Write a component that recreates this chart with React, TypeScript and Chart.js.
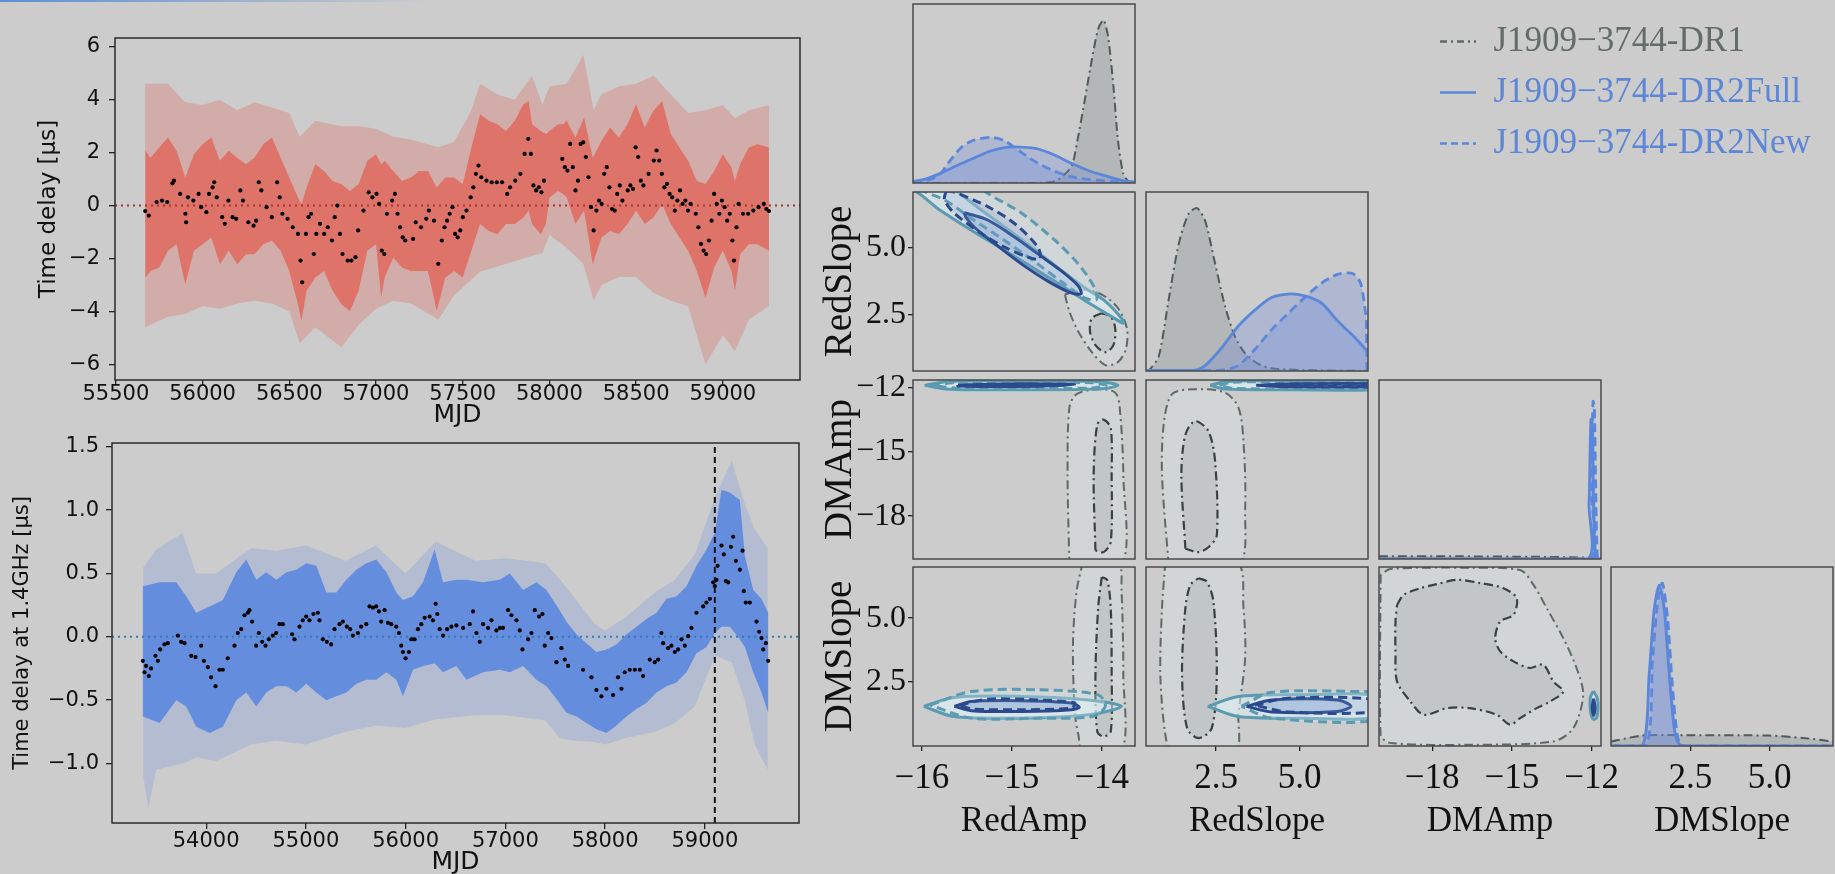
import React, { useEffect, useRef } from 'react';
import { Chart, registerables } from 'chart.js';

Chart.register(...registerables);

const SANS = "'DejaVu Sans', sans-serif";
const SERIF = "'Liberation Serif', 'DejaVu Serif', serif";
Chart.defaults.font.family = SANS;

// ---------------- left top panel (red) ----------------
const TOP_X_RANGE = [55495, 59445];
const TOP_Y_RANGE = [-6.59, 6.33];
const TOP_X_TICKS = [55500, 56000, 56500, 57000, 57500, 58000, 58500, 59000];
const TOP_Y_TICKS = [-6, -4, -2, 0, 2, 4, 6];

const TOP_MJD = [55669,55690,55735,55766,55796,55826,55835,55871,55901,55905,55916,55947,55977,55992,56022,56037,56058,56067,56082,56113,56128,56149,56173,56194,56218,56233,56264,56294,56309,56324,56339,56369,56399,56430,56445,56460,56490,56520,56550,56565,56574,56596,56611,56626,56641,56656,56677,56701,56722,56746,56762,56777,56792,56807,56837,56858,56882,56897,56928,56958,56979,57003,57018,57033,57048,57063,57093,57109,57124,57139,57154,57169,57214,57229,57260,57290,57305,57335,57359,57380,57395,57410,57425,57441,57456,57471,57486,57501,57522,57546,57561,57576,57591,57607,57637,57667,57697,57727,57757,57773,57803,57833,57857,57878,57893,57908,57923,57939,57954,57969,58074,58089,58104,58120,58135,58150,58165,58180,58195,58210,58225,58240,58255,58271,58286,58301,58316,58331,58346,58361,58376,58391,58406,58421,58452,58467,58482,58497,58512,58527,58542,58572,58602,58618,58633,58648,58663,58678,58693,58708,58723,58738,58753,58768,58784,58799,58814,58844,58859,58874,58889,58904,58920,58935,58950,58965,58980,58995,59010,59025,59040,59055,59064,59079,59091,59116,59146,59176,59206,59236,59251,59266];
const TOP_DELAY = [-0.21,-0.38,0.13,0.19,0.13,0.84,0.94,0.44,-0.31,-0.63,0.31,0.19,0.44,-0.06,-0.25,0.44,0.69,0.88,0.31,-0.44,-0.69,0.19,-0.44,-0.5,0.57,0.19,-0.63,-0.76,-0.57,0.88,0.57,-0.06,-0.44,0.88,0.31,-0.31,-0.5,-0.82,-1.07,-2.08,-2.9,-1.07,-0.44,-0.31,-1.83,-1.07,-0.69,-1.07,-0.82,-1.32,-0.44,0,-1.07,-1.83,-2.08,-2.08,-1.95,-0.94,-0.19,0.5,0.31,0.44,0.06,-1.7,-1.83,-0.31,0.19,0.44,-0.31,-0.82,-1.2,-1.32,-1.26,-0.63,-0.82,-0.5,-0.19,-0.57,-2.2,-1.32,-0.82,-0.57,-0.31,-0.06,-1.07,-1.2,-0.94,-0.44,-0.19,0.31,0.69,1.2,1.51,1.07,0.94,0.88,0.88,0.88,0.44,0.69,0.94,1.2,1.95,2.52,1.95,0.76,0.57,0.69,0.5,0.94,1.76,1.45,1.32,2.33,1.45,0.57,0.94,2.33,2.39,1.83,1.07,-0.06,-0.94,-0.19,0.19,0.06,1.2,1.45,0.69,-0.13,-0.19,0.44,0.76,0.19,0.57,0.76,0.63,2.2,1.83,0.94,0.76,1.2,1.7,2.08,1.7,1.2,0.69,0.82,0.44,0.31,-0.19,0.19,0.57,0.06,0.19,-0.19,0.06,-0.31,-0.82,-1.45,-1.7,-1.83,-1.32,-0.57,0.44,0.06,-0.31,0.19,-0.06,-0.57,-0.31,-1.32,-2.08,-0.82,0.06,-0.31,-0.31,-0.19,-0.06,0.06,-0.13,-0.21];

const TOP_CORE_MJD = [55670,55700,55750,55800,55850,55900,55950,56000,56050,56100,56150,56200,56250,56300,56350,56400,56450,56500,56550,56570,56600,56650,56700,56750,56800,56850,56900,56950,57000,57030,57050,57100,57150,57200,57250,57300,57350,57400,57450,57500,57550,57600,57650,57700,57750,57800,57850,57880,57900,57950,57980,58000,58050,58080,58100,58150,58200,58250,58300,58350,58400,58450,58500,58550,58600,58650,58700,58750,58800,58850,58900,58950,59000,59050,59070,59100,59150,59200,59266];
const TOP_CORE_HI = [2.07,1.81,2.19,2.57,2.07,1.06,1.94,2.32,2.57,1.69,2.07,1.81,1.56,1.81,2.32,2.57,1.81,1.06,0.30,0.05,0.68,1.56,1.31,0.93,0.81,0.55,0.81,1.69,1.94,1.56,1.69,1.31,0.93,1.06,1.31,1.31,0.68,1.06,1.06,0.81,2.19,3.45,3.2,3.07,2.82,3.2,3.83,3.95,3.07,2.82,2.7,2.82,3.07,3.07,3.2,2.57,3.32,1.81,2.44,2.95,2.57,3.07,3.83,2.95,3.58,3.95,2.7,2.19,1.69,0.93,0.81,1.31,1.94,1.44,0.93,1.56,2.19,2.32,2.19];
const TOP_CORE_LO = [-2.72,-2.47,-2.34,-1.71,-1.46,-2.97,-1.71,-1.46,-1.21,-2.22,-1.71,-2.22,-1.84,-1.84,-1.46,-1.33,-1.71,-2.47,-3.73,-4.36,-3.22,-2.72,-2.47,-3.22,-3.73,-3.98,-3.22,-1.71,-1.46,-3.48,-2.72,-1.96,-2.34,-2.47,-2.47,-2.47,-3.98,-2.72,-2.47,-2.72,-1.71,-0.70,-0.96,-1.08,-0.70,-0.70,-0.45,-0.2,-0.70,-1.08,-0.70,0.30,0.55,0.43,0.30,-0.70,-0.20,-2.22,-1.21,-0.96,-1.08,-0.70,-0.20,-0.70,-0.45,0.05,-0.70,-1.21,-1.71,-2.47,-3.48,-2.34,-1.71,-2.47,-3.22,-1.84,-1.46,-1.46,-1.71];

const TOP_ENV_MJD = [55669,55800,55900,56000,56100,56200,56300,56400,56500,56560,56650,56800,56900,57000,57100,57200,57360,57450,57550,57600,57700,57800,57900,57960,58000,58100,58196,58255,58300,58400,58500,58600,58700,58800,58900,59000,59070,59150,59266];
const TOP_ENV_HI = [4.6,4.6,3.9,3.8,4.0,3.6,3.9,3.7,3.5,2.6,3.2,3.0,3.0,2.9,2.6,2.5,2.2,2.4,3.6,4.6,4.2,4.0,4.9,3.8,4.5,4.6,5.7,3.6,4.2,4.5,4.6,4.9,4.2,3.5,3.6,3.8,3.3,3.6,3.8];
const TOP_ENV_LO = [-4.6,-4.2,-4.1,-3.8,-3.9,-3.7,-3.6,-3.7,-4.0,-5.2,-4.6,-5.35,-4.5,-3.9,-3.6,-3.7,-4.3,-3.4,-2.8,-2.5,-2.3,-2.1,-1.9,-1.8,-1.1,-1.6,-2.2,-3.6,-3.0,-2.7,-2.7,-3.3,-3.6,-3.8,-6.0,-4.9,-5.5,-4.3,-3.8];

// ---------------- left bottom panel (blue) ----------------
const BOT_X_RANGE = [53056, 59944];
const BOT_Y_RANGE = [-1.47, 1.53];
const BOT_X_TICKS = [54000, 55000, 56000, 57000, 58000, 59000];
const BOT_Y_TICKS = [-1.0, -0.5, 0.0, 0.5, 1.0, 1.5];
const VLINE_MJD = 59100;

const BOT_MJD = [53365,53382,53398,53425,53448,53492,53516,53539,53582,53616,53716,53749,53783,53850,53893,53950,53977,54017,54050,54094,54134,54167,54217,54284,54317,54351,54384,54418,54434,54461,54501,54528,54562,54595,54628,54668,54702,54735,54769,54862,54886,54936,54969,55003,55036,55076,55120,55136,55170,55210,55253,55287,55337,55371,55411,55444,55471,55521,55554,55605,55638,55672,55705,55732,55755,55789,55822,55856,55906,55933,55956,55973,56000,56033,56057,56090,56124,56157,56191,56241,56274,56301,56318,56341,56375,56415,56459,56509,56576,56643,56676,56710,56743,56776,56827,56860,56910,56944,56977,57027,57061,57111,57144,57171,57228,57261,57295,57338,57372,57395,57429,57462,57512,57562,57596,57629,57779,57863,57913,57963,58013,58080,58130,58164,58197,58247,58298,58348,58381,58448,58498,58532,58565,58582,58632,58665,58699,58732,58766,58799,58833,58866,58916,58983,59016,59050,59083,59100,59117,59127,59167,59190,59210,59234,59261,59284,59311,59351,59378,59391,59411,59451,59518,59545,59568,59585,59612,59635];
const BOT_DELAY = [-0.19,-0.28,-0.23,-0.31,-0.25,-0.15,-0.19,-0.10,-0.06,-0.05,0.01,-0.04,-0.05,-0.15,-0.16,-0.07,-0.19,-0.24,-0.32,-0.39,-0.26,-0.26,-0.17,-0.07,0.03,0.06,0.17,0.19,0.21,0.12,-0.07,0.03,-0.04,-0.07,-0.02,0.01,0.03,0.10,0.10,0.02,-0.02,0.08,0.13,0.16,0.13,0.18,0.19,0.13,-0.02,-0.04,-0.06,0.06,0.10,0.12,0.08,0.06,0.01,0.03,0.08,0.10,0.24,0.23,0.24,0.20,0.12,0.21,0.11,0.10,0.08,0.03,-0.07,-0.12,-0.17,-0.12,-0.02,-0.02,0.06,0.10,0.15,0.16,0.13,0.26,0.18,0.06,0.01,0.06,0.08,0.09,0.07,0.10,0.20,0.03,-0.04,0.10,0.07,0.13,0.05,0.07,0.07,0.21,0.17,0.13,0.05,-0.10,-0.02,0.03,0.21,0.16,0.18,-0.07,0.03,-0.01,-0.20,-0.09,-0.18,-0.23,-0.26,-0.32,-0.42,-0.47,-0.41,-0.46,-0.32,-0.41,-0.28,-0.26,-0.26,-0.26,-0.31,-0.18,-0.20,-0.18,0.03,-0.05,-0.09,-0.07,-0.12,-0.10,-0.02,-0.07,0.005,0.07,0.19,0.24,0.27,0.30,0.43,0.40,0.45,0.56,0.72,0.65,0.44,0.43,0.71,0.79,0.60,0.53,0.68,0.36,0.27,0.27,0.12,0.04,-0.01,-0.10,-0.05,-0.19];

const BOT_CORE_MJD = [53365,53533,53700,53800,53901,54034,54168,54302,54402,54503,54603,54703,54804,54904,55004,55105,55205,55305,55406,55506,55606,55707,55807,55907,55973,56074,56174,56291,56375,56509,56609,56777,56944,57044,57178,57312,57412,57512,57612,57713,57813,57913,58013,58114,58214,58314,58415,58515,58615,58716,58816,58916,59016,59100,59167,59251,59351,59401,59485,59568,59635];
const BOT_CORE_HI = [0.40,0.43,0.43,0.32,0.19,0.24,0.29,0.51,0.61,0.45,0.51,0.45,0.51,0.53,0.58,0.56,0.35,0.35,0.45,0.53,0.58,0.61,0.51,0.35,0.29,0.32,0.43,0.69,0.43,0.45,0.45,0.43,0.45,0.50,0.37,0.43,0.37,0.25,0.12,0.02,-0.05,-0.12,-0.10,-0.06,0.02,0.08,0.14,0.19,0.30,0.32,0.40,0.56,0.69,0.82,1.16,1.14,1.08,0.64,0.37,0.30,0.19];
const BOT_CORE_LO = [-0.63,-0.68,-0.50,-0.55,-0.71,-0.76,-0.71,-0.50,-0.44,-0.55,-0.44,-0.39,-0.39,-0.44,-0.37,-0.44,-0.50,-0.47,-0.44,-0.37,-0.34,-0.34,-0.28,-0.34,-0.47,-0.26,-0.23,-0.21,-0.28,-0.23,-0.34,-0.28,-0.26,-0.28,-0.23,-0.34,-0.39,-0.49,-0.60,-0.63,-0.68,-0.73,-0.76,-0.70,-0.63,-0.57,-0.52,-0.44,-0.39,-0.36,-0.28,-0.13,-0.08,0.03,0.08,0.08,-0.02,-0.08,-0.28,-0.44,-0.60];

const BOT_ENV_MJD = [53370,53420,53500,53764,53900,54100,54450,54700,55000,55400,55700,56000,56300,56700,57000,57200,57400,57550,57700,57900,58000,58200,58500,58700,58900,59100,59270,59400,59500,59630];
const BOT_ENV_HI = [0.55,0.6,0.69,0.82,0.5,0.5,0.7,0.68,0.72,0.6,0.72,0.5,0.75,0.6,0.62,0.6,0.58,0.45,0.3,0.1,0.05,0.15,0.35,0.45,0.65,1.1,1.39,1.05,0.85,0.7];
const BOT_ENV_LO = [-1.1,-1.35,-1.05,-1.0,-0.95,-0.98,-0.85,-0.82,-0.85,-0.75,-0.7,-0.72,-0.65,-0.62,-0.62,-0.64,-0.66,-0.8,-0.82,-0.83,-0.85,-0.8,-0.75,-0.68,-0.55,-0.15,-0.2,-0.5,-0.85,-1.05];

// ---------------- corner plot ----------------
const PARAMS = ['RedAmp', 'RedSlope', 'DMAmp', 'DMSlope'];
const RANGES: Record<string, number[]> = { RedAmp: [-16.1, -13.63], RedSlope: [0.4, 7.05], DMAmp: [-20, -11.65], DMSlope: [0, 7] };
const TICKS: Record<string, number[]> = { RedAmp: [-16, -15, -14], RedSlope: [2.5, 5.0], DMAmp: [-18, -15, -12], DMSlope: [2.5, 5.0] };
const DEC: Record<string, number> = { RedAmp: 0, RedSlope: 1, DMAmp: 0, DMSlope: 1 };
const SERIES = ['J1909\u22123744-DR1', 'J1909\u22123744-DR2Full', 'J1909\u22123744-DR2New'];

// 1D marginals [value, relative density]
const KDE_REDAMP_DR1 = [[-16.1,0],[-14.82,0],[-14.52,0.01],[-14.34,0.09],[-14.27,0.24],[-14.19,0.46],[-14.11,0.69],[-14.04,0.86],[-13.98,0.91],[-13.93,0.82],[-13.87,0.54],[-13.82,0.24],[-13.76,0.05],[-13.7,0.01],[-13.63,0]];
const KDE_REDAMP_FULL = [[-16.1,0.01],[-15.97,0.02],[-15.79,0.055],[-15.6,0.1],[-15.42,0.14],[-15.23,0.18],[-15.04,0.2],[-14.89,0.2],[-14.71,0.19],[-14.52,0.155],[-14.34,0.11],[-14.15,0.07],[-13.96,0.04],[-13.78,0.015],[-13.63,0.005]];
const KDE_REDAMP_NEW = [[-16.1,0.005],[-15.9,0.02],[-15.79,0.055],[-15.71,0.11],[-15.56,0.2],[-15.42,0.24],[-15.23,0.255],[-15.08,0.235],[-14.89,0.17],[-14.71,0.11],[-14.52,0.065],[-14.34,0.035],[-14.15,0.02],[-13.89,0.01],[-13.63,0.005]];
const KDE_REDSLOPE_DR1 = [[0.4,0],[0.49,0.004],[0.78,0.08],[1.08,0.4],[1.38,0.71],[1.68,0.88],[1.93,0.91],[2.17,0.84],[2.47,0.6],[2.77,0.36],[3.07,0.19],[3.36,0.1],[3.76,0.04],[4.16,0.015],[5.15,0.005],[7.05,0]];
const KDE_REDSLOPE_FULL = [[0.4,0.004],[1.88,0.005],[2.17,0.03],[2.67,0.13],[3.16,0.25],[3.66,0.34],[4.16,0.41],[4.65,0.43],[5.15,0.42],[5.65,0.38],[6.14,0.28],[6.64,0.19],[6.98,0.12],[7.05,0.1]];
const KDE_REDSLOPE_NEW = [[0.4,0.004],[2.67,0.005],[3.16,0.03],[3.66,0.12],[4.16,0.23],[4.65,0.32],[5.15,0.41],[5.65,0.49],[6.14,0.54],[6.59,0.545],[6.83,0.49],[6.98,0.32],[7.0,0.28],[7.02,0]];
const KDE_DMAMP_DR1 = [[-20,0.015],[-17,0.015],[-14,0.012],[-12.3,0.008],[-12,0.005],[-11.65,0]];
const KDE_DMAMP_FULL = [[-20,0],[-12.18,0],[-12.1,0.3],[-12.03,0.78],[-11.98,0.75],[-11.93,0.3],[-11.85,0],[-11.65,0]];
const KDE_DMAMP_NEW = [[-20,0],[-12.08,0],[-12.02,0.4],[-11.95,0.88],[-11.9,0.85],[-11.85,0.4],[-11.78,0],[-11.65,0]];
const KDE_DMSLOPE_DR1 = [[0,0.025],[0.99,0.058],[2.5,0.06],[5.0,0.058],[6.05,0.045],[7,0.025]];
const KDE_DMSLOPE_FULL = [[0,0],[0.99,0],[1.2,0.39],[1.36,0.76],[1.52,0.9],[1.68,0.76],[1.84,0.39],[2.0,0.09],[2.15,0.01],[2.4,0],[7,0]];
const KDE_DMSLOPE_NEW = [[0,0],[1.1,0],[1.31,0.48],[1.47,0.8],[1.62,0.91],[1.78,0.72],[1.94,0.33],[2.1,0.05],[2.26,0],[7,0]];

// 2D credible contours [x, y]
const C_RA_RS_DR1_95 = [[-14.41,3.24],[-14.36,2.61],[-14.26,1.86],[-14.11,1.1],[-13.96,0.62],[-13.82,0.73],[-13.73,1.23],[-13.72,1.98],[-13.82,2.74],[-14.0,3.24],[-14.22,3.43]];
const C_RA_RS_DR1_50 = [[-14.0,2.55],[-14.11,2.36],[-14.13,1.86],[-14.07,1.36],[-13.96,1.1],[-13.87,1.36],[-13.85,1.98],[-13.9,2.42]];
const C_RA_RS_FULL_95 = [[-16.3,7.1],[-16.08,7.08],[-15.83,6.45],[-15.45,5.63],[-15.08,4.88],[-14.71,4.12],[-14.41,3.49],[-14.11,2.86],[-13.89,2.42],[-13.76,2.17],[-13.78,2.36],[-13.96,2.99],[-14.19,3.49],[-14.49,4.25],[-14.78,5.0],[-15.08,5.75],[-15.34,6.38],[-15.56,6.95],[-15.68,7.26],[-16.3,7.3]];
const C_RA_RS_NEW_95 = [[-15.97,7.3],[-15.97,7.08],[-15.75,6.76],[-15.45,6.07],[-15.08,5.25],[-14.71,4.37],[-14.41,3.62],[-14.19,3.12],[-14.06,3.05],[-14.08,3.49],[-14.26,4.37],[-14.52,5.25],[-14.89,6.26],[-15.3,7.08],[-15.3,7.3]];
const C_RA_RS_FULL_50 = [[-15.53,6.28],[-15.27,6.01],[-14.97,5.38],[-14.71,4.75],[-14.45,4.12],[-14.26,3.56],[-14.23,3.27],[-14.34,3.3],[-14.6,3.74],[-14.89,4.37],[-15.19,5.13],[-15.42,5.75],[-15.51,6.11]];
const C_RA_RS_NEW_50 = [[-15.73,7.1],[-15.64,7.05],[-15.27,6.51],[-14.97,5.88],[-14.71,5.0],[-14.69,4.56],[-14.82,4.63],[-15.08,5.0],[-15.34,5.51],[-15.64,6.26],[-15.75,6.76]];

const C_RA_DA_DR1_95 = [[-14.36,-20.3],[-14.38,-16.08],[-14.36,-12.94],[-14.28,-12.31],[-14.04,-12.08],[-13.85,-12.24],[-13.8,-12.94],[-13.76,-16.08],[-13.78,-20.3]];
const C_RA_DA_DR1_50 = [[-14.07,-19.6],[-14.09,-16.08],[-14.05,-13.73],[-13.98,-13.5],[-13.9,-13.9],[-13.89,-16.08],[-13.9,-19.2],[-13.98,-19.68]];
const C_RA_DA_FULL_95 = [[-15.97,-11.9],[-15.7,-11.72],[-14.9,-11.7],[-14.0,-11.74],[-13.82,-11.9],[-14.0,-12.06],[-14.9,-12.1],[-15.7,-12.08]];
const C_RA_DA_NEW_95 = [[-15.9,-11.9],[-15.6,-11.76],[-14.9,-11.75],[-14.1,-11.78],[-13.95,-11.9],[-14.1,-12.02],[-14.9,-12.05],[-15.6,-12.03]];
const C_RA_DA_FULL_50 = [[-15.6,-11.88],[-14.9,-11.82],[-14.3,-11.86],[-14.9,-11.95],[-15.6,-11.93]];
const C_RA_DA_NEW_50 = [[-15.5,-11.9],[-14.9,-11.85],[-14.4,-11.88],[-14.9,-11.93],[-15.5,-11.93]];

const C_RS_DA_DR1_95 = [[1.08,-20.3],[0.88,-16.08],[0.93,-13.73],[1.18,-12.31],[1.87,-12.08],[2.77,-12.24],[3.17,-12.94],[3.32,-14.51],[3.37,-17.64],[3.17,-20.3]];
const C_RS_DA_DR1_50 = [[1.58,-19.52],[1.46,-16.08],[1.58,-14.2],[1.87,-13.57],[2.27,-14.04],[2.47,-15.45],[2.52,-18.9],[2.27,-19.45],[1.97,-19.68]];
const C_RS_DA_FULL_95 = [[2.32,-11.9],[2.8,-11.72],[5,-11.7],[7.5,-11.72],[7.5,-12.08],[5,-12.1],[2.8,-12.07]];
const C_RS_DA_NEW_95 = [[2.6,-11.9],[3.0,-11.75],[5,-11.74],[7.5,-11.75],[7.5,-12.04],[5,-12.06],[3.0,-12.04]];
const C_RS_DA_FULL_50 = [[3.7,-11.9],[5,-11.83],[7.5,-11.84],[7.5,-11.96],[5,-11.97]];
const C_RS_DA_NEW_50 = [[3.9,-11.9],[5,-11.85],[7.5,-11.86],[7.5,-11.94],[5,-11.95]];

const C_RA_DS_DR1_95 = [[-14.21,7.2],[-14.28,6.04],[-14.32,4.0],[-14.3,1.3],[-14.26,0.44],[-14.21,-0.2],[-13.78,-0.2],[-13.76,2.79],[-13.78,6.04],[-13.82,7.2]];
const C_RA_DS_DR1_50 = [[-14.0,6.6],[-14.04,5.4],[-14.07,2.79],[-14.05,0.57],[-13.98,0.37],[-13.9,0.57],[-13.89,2.79],[-13.9,5.4],[-13.94,6.5]];
const C_RA_DS_FULL_95 = [[-15.98,1.55],[-15.64,1.9],[-14.89,1.94],[-14.15,1.8],[-13.78,1.55],[-14.15,1.22],[-14.89,1.09],[-15.64,1.15]];
const C_RA_DS_NEW_95 = [[-15.91,1.6],[-15.45,2.13],[-14.71,2.2],[-14.04,2.0],[-13.96,1.55],[-14.11,1.15],[-14.71,1.09],[-15.45,1.09]];
const C_RA_DS_FULL_50 = [[-15.64,1.55],[-15.45,1.74],[-14.89,1.77],[-14.34,1.68],[-14.25,1.52],[-14.34,1.42],[-14.89,1.35],[-15.45,1.38]];
const C_RA_DS_NEW_50 = [[-15.58,1.6],[-15.27,1.83],[-14.71,1.8],[-14.3,1.68],[-14.34,1.48],[-14.89,1.42],[-15.45,1.45]];

const C_RS_DS_DR1_95 = [[0.98,7.2],[0.88,5.4],[0.83,2.79],[0.98,0.44],[1.18,-0.2],[3.07,-0.2],[3.17,1.3],[3.37,3.44],[3.32,5.4],[3.12,7.2]];
const C_RS_DS_DR1_50 = [[1.97,6.56],[2.22,6.43],[2.42,5.65],[2.52,2.79],[2.37,0.7],[1.97,0.31],[1.63,0.7],[1.48,2.79],[1.58,5.4],[1.73,6.3]];
const C_RS_DS_FULL_95 = [[2.25,1.55],[3.17,1.94],[5.15,2.0],[7.4,1.94],[7.4,1.15],[5.15,1.09],[3.17,1.15]];
const C_RS_DS_NEW_95 = [[3.26,1.55],[4.16,2.1],[7.04,2.13],[7.4,2.13],[7.4,1.05],[4.16,1.09]];
const C_RS_DS_FULL_50 = [[3.41,1.55],[4.16,1.8],[6.14,1.8],[6.54,1.55],[6.14,1.35],[4.16,1.33]];
const C_RS_DS_NEW_50 = [[3.66,1.6],[4.65,1.87],[7.4,1.8],[7.4,1.35],[4.65,1.33]];

const C_DA_DS_DR1_95 = [[-19.94,6.69],[-19.94,0.44],[-19.57,0.12],[-16.57,0.05],[-13.44,0.18],[-12.69,0.7],[-12.32,2.0],[-12.57,3.05],[-13.07,4.22],[-13.69,5.39],[-14.19,6.3],[-14.69,6.88],[-16.57,6.97],[-19.57,6.92]];
const C_DA_DS_DR1_50 = [[-19.32,5.52],[-19.07,5.91],[-18.44,6.17],[-17.82,6.33],[-17.07,6.5],[-16.19,6.37],[-15.32,6.17],[-14.82,5.78],[-14.94,5.13],[-15.44,4.87],[-15.63,4.22],[-15.44,3.7],[-14.94,3.31],[-14.32,3.05],[-13.82,3.18],[-13.44,2.52],[-13.07,2.13],[-13.57,1.74],[-14.07,1.48],[-14.69,1.09],[-15.07,0.83],[-15.57,1.22],[-16.57,1.48],[-17.44,1.48],[-18.32,1.22],[-18.82,1.74],[-19.32,2.52],[-19.38,3.7],[-19.38,4.87]];
const C_DA_DS_FULL_95 = [[-11.94,2.15],[-11.8,1.9],[-11.76,1.5],[-11.82,1.1],[-11.95,1.05],[-12.05,1.4],[-12.05,1.9]];
const C_DA_DS_FULL_50 = [[-11.93,1.85],[-11.87,1.5],[-11.93,1.2],[-11.98,1.5]];

// ---------------- styles & geometry ----------------
const ST: Record<string, any> = {
  dr1_95: { color: '#5d6a67', width: 2, dash: [9, 4, 2, 4], fill: 'rgba(216,221,221,0.5)' },
  dr1_50: { color: '#384240', width: 2.2, dash: [9, 4, 2, 4], fill: 'rgba(160,167,167,0.3)' },
  full_95: { color: '#5b9bb1', width: 3, dash: [], fill: 'rgba(222,240,246,0.55)' },
  new_95: { color: '#5b9bb1', width: 3, dash: [9, 5], fill: 'rgba(222,240,246,0.3)' },
  full_50: { color: '#2b4a8d', width: 3, dash: [], fill: 'rgba(120,150,205,0.28)' },
  new_50: { color: '#2b4a8d', width: 3, dash: [9, 5], fill: 'rgba(120,150,205,0.2)' },
  kde_dr1: { color: '#4f5b58', width: 2, dash: [9, 4, 2, 4], fill: 'rgba(150,158,158,0.45)' },
  kde_full: { color: '#5b87da', width: 2.8, dash: [], fill: 'rgba(110,140,220,0.3)' },
  kde_new: { color: '#5b87da', width: 2.8, dash: [9, 5], fill: 'rgba(110,140,220,0.3)' },
};

const CORNER: any[] = [
  { r: 0, c: 0, sets: [[KDE_REDAMP_FULL, 'kde_full'], [KDE_REDAMP_NEW, 'kde_new'], [KDE_REDAMP_DR1, 'kde_dr1']] },
  { r: 1, c: 0, sets: [[C_RA_RS_NEW_50, 'new_50'], [C_RA_RS_FULL_50, 'full_50'], [C_RA_RS_NEW_95, 'new_95'], [C_RA_RS_FULL_95, 'full_95'], [C_RA_RS_DR1_50, 'dr1_50'], [C_RA_RS_DR1_95, 'dr1_95']] },
  { r: 1, c: 1, sets: [[KDE_REDSLOPE_FULL, 'kde_full'], [KDE_REDSLOPE_NEW, 'kde_new'], [KDE_REDSLOPE_DR1, 'kde_dr1']] },
  { r: 2, c: 0, sets: [[C_RA_DA_NEW_50, 'new_50'], [C_RA_DA_FULL_50, 'full_50'], [C_RA_DA_NEW_95, 'new_95'], [C_RA_DA_FULL_95, 'full_95'], [C_RA_DA_DR1_50, 'dr1_50'], [C_RA_DA_DR1_95, 'dr1_95']] },
  { r: 2, c: 1, sets: [[C_RS_DA_NEW_50, 'new_50'], [C_RS_DA_FULL_50, 'full_50'], [C_RS_DA_NEW_95, 'new_95'], [C_RS_DA_FULL_95, 'full_95'], [C_RS_DA_DR1_50, 'dr1_50'], [C_RS_DA_DR1_95, 'dr1_95']] },
  { r: 2, c: 2, sets: [[KDE_DMAMP_FULL, 'kde_full'], [KDE_DMAMP_NEW, 'kde_new'], [KDE_DMAMP_DR1, 'kde_dr1']] },
  { r: 3, c: 0, sets: [[C_RA_DS_NEW_50, 'new_50'], [C_RA_DS_FULL_50, 'full_50'], [C_RA_DS_NEW_95, 'new_95'], [C_RA_DS_FULL_95, 'full_95'], [C_RA_DS_DR1_50, 'dr1_50'], [C_RA_DS_DR1_95, 'dr1_95']] },
  { r: 3, c: 1, sets: [[C_RS_DS_NEW_50, 'new_50'], [C_RS_DS_FULL_50, 'full_50'], [C_RS_DS_NEW_95, 'new_95'], [C_RS_DS_FULL_95, 'full_95'], [C_RS_DS_DR1_50, 'dr1_50'], [C_RS_DS_DR1_95, 'dr1_95']] },
  { r: 3, c: 2, sets: [[C_DA_DS_FULL_50, 'full_50'], [C_DA_DS_FULL_95, 'full_95'], [C_DA_DS_DR1_50, 'dr1_50'], [C_DA_DS_DR1_95, 'dr1_95']] },
  { r: 3, c: 3, sets: [[KDE_DMSLOPE_FULL, 'kde_full'], [KDE_DMSLOPE_NEW, 'kde_new'], [KDE_DMSLOPE_DR1, 'kde_dr1']] },
];

const COL_X = [913, 1146, 1379, 1611];
const ROW_Y = [4, 192, 380, 567];
const CELL_W = 222;
const CELL_H = 179;
const CORNER_YW = 100;
const CORNER_XH = 101;

const TOP_BOX = { x: 115, y: 38, w: 685, h: 342 };
const BOT_BOX = { x: 112, y: 443, w: 687, h: 380 };

// ---------------- helpers ----------------
const fmt = (d: number) => (v: number) => (v < 0 ? '\u2212' : '') + Math.abs(v).toFixed(d);
const pts = (a: number[][]) => a.map(([x, y]) => ({ x, y }));
const loop = (a: number[][]) => pts([...a, a[0]]);
const series = (xs: number[], ys: number[]) => xs.map((x, i) => ({ x, y: ys[i] }));
const band = (xs: number[], hi: number[], lo: number[]) => {
  const upper = series(xs, hi);
  const lower = series(xs, lo).reverse();
  return [...upper, ...lower, upper[0]];
};

const dotsDs = (data: any[]) => ({ data, showLine: false, pointRadius: 2.1, pointBackgroundColor: '#000', pointBorderWidth: 0, pointStyle: 'circle' });
const strokeDs = (data: any[], color: string, width: number, dash: number[]) => ({ data, showLine: true, borderColor: color, borderWidth: width, borderDash: dash, pointRadius: 0, fill: false, tension: 0 });
const areaDs = (data: any[], fill: string) => ({ data, showLine: true, borderColor: 'rgba(0,0,0,0)', borderWidth: 0, pointRadius: 0, fill: 'shape', backgroundColor: fill, tension: 0 });
const styledDs = (data: any[], st: any, fillMode: string, tension: number) => ({ data, showLine: true, borderColor: st.color, borderWidth: st.width, borderDash: st.dash, pointRadius: 0, fill: fillMode, backgroundColor: st.fill, tension, borderJoinStyle: 'round' });

const framePlugin = {
  id: 'frame',
  afterDatasetsDraw(chart: any, _a: any, o: any) {
    const { ctx, chartArea: a } = chart;
    ctx.save();
    ctx.strokeStyle = o.color || '#333';
    ctx.lineWidth = o.width || 1.5;
    ctx.strokeRect(a.left, a.top, a.right - a.left, a.bottom - a.top);
    ctx.restore();
  },
};

function makeAxis(s: any, horizontal: boolean) {
  const shown = s.size > 0;
  return {
    type: 'linear',
    min: s.min,
    max: s.max,
    display: shown,
    afterBuildTicks: (ax: any) => { ax.ticks = (s.ticks || []).map((v: number) => ({ value: v })); },
    afterFit: (ax: any) => {
      if (horizontal) ax.height = s.size; else ax.width = s.size;
      ax.paddingLeft = 0; ax.paddingRight = 0; ax.paddingTop = 0; ax.paddingBottom = 0;
    },
    grid: { display: shown && !!s.ticks, drawOnChartArea: false, drawTicks: true, tickLength: s.tickLen ?? 6, color: '#222', lineWidth: 1.3 },
    border: { display: false },
    ticks: { display: shown && !!s.ticks, font: s.tickFont, color: '#111', padding: s.tickPad ?? 3, maxRotation: 0, minRotation: 0, autoSkip: false, callback: (v: number) => fmt(s.dec ?? 0)(v) },
    title: { display: !!s.title && shown, text: s.title, font: s.titleFont, color: '#111', padding: { top: 4, bottom: 4 } },
  };
}

function baseConfig(datasets: any[], xa: any, ya: any, E: number, frame: any): any {
  return {
    type: 'line',
    data: { datasets },
    options: {
      responsive: false,
      animation: false,
      events: [],
      layout: { padding: E, autoPadding: false },
      plugins: { legend: { display: false }, tooltip: { enabled: false }, frame },
      scales: { x: makeAxis(xa, true), y: makeAxis(ya, false) },
    },
    plugins: [framePlugin],
  };
}

function topConfig(E: number) {
  const datasets = [
    dotsDs(series(TOP_MJD, TOP_DELAY)),
    strokeDs(pts([[TOP_X_RANGE[0], 0], [TOP_X_RANGE[1], 0]]), '#a83228', 2, [2, 4]),
    areaDs(band(TOP_CORE_MJD, TOP_CORE_HI, TOP_CORE_LO), 'rgba(226,96,84,0.75)'),
    areaDs(band(TOP_ENV_MJD, TOP_ENV_HI, TOP_ENV_LO), 'rgba(222,112,104,0.34)'),
  ];
  return baseConfig(
    datasets,
    { min: TOP_X_RANGE[0], max: TOP_X_RANGE[1], size: 54, ticks: TOP_X_TICKS, dec: 0, title: 'MJD', tickFont: { family: SANS, size: 21 }, titleFont: { family: SANS, size: 25 }, tickPad: -3, tickLen: 5 },
    { min: TOP_Y_RANGE[0], max: TOP_Y_RANGE[1], size: 84, ticks: TOP_Y_TICKS, dec: 0, title: 'Time delay [\u03bcs]', tickFont: { family: SANS, size: 21 }, titleFont: { family: SANS, size: 23 }, tickPad: 9, tickLen: 6 },
    E,
    { color: '#2a2a2a', width: 1.5 },
  );
}

function botConfig(E: number) {
  const datasets = [
    strokeDs(pts([[VLINE_MJD, BOT_Y_RANGE[0]], [VLINE_MJD, BOT_Y_RANGE[1]]]), '#111', 2, [6, 4]),
    dotsDs(series(BOT_MJD, BOT_DELAY)),
    strokeDs(pts([[BOT_X_RANGE[0], 0], [BOT_X_RANGE[1], 0]]), '#2f7fb5', 2, [2, 4]),
    areaDs(band(BOT_CORE_MJD, BOT_CORE_HI, BOT_CORE_LO), 'rgba(82,130,225,0.8)'),
    areaDs(band(BOT_ENV_MJD, BOT_ENV_HI, BOT_ENV_LO), 'rgba(100,140,220,0.24)'),
  ];
  return baseConfig(
    datasets,
    { min: BOT_X_RANGE[0], max: BOT_X_RANGE[1], size: 58, ticks: BOT_X_TICKS, dec: 0, title: 'MJD', tickFont: { family: SANS, size: 21 }, titleFont: { family: SANS, size: 25 }, tickPad: 0, tickLen: 6 },
    { min: BOT_Y_RANGE[0], max: BOT_Y_RANGE[1], size: 106, ticks: BOT_Y_TICKS, dec: 1, title: 'Time delay at 1.4GHz [\u03bcs]', tickFont: { family: SANS, size: 21 }, titleFont: { family: SANS, size: 21 }, tickPad: 7, tickLen: 6 },
    E,
    { color: '#2a2a2a', width: 1.5 },
  );
}

function cornerConfig(p: any, E: number) {
  const xp = PARAMS[p.c];
  const yp = PARAMS[p.r];
  const isKde = p.r === p.c;
  const datasets = p.sets.map(([arr, key]: any) => styledDs(isKde ? pts(arr) : loop(arr), ST[key], isKde ? 'origin' : 'shape', isKde ? 0.25 : 0.3));
  const xa = { min: RANGES[xp][0], max: RANGES[xp][1], size: p.r === 3 ? CORNER_XH : 0, ticks: TICKS[xp], dec: DEC[xp], title: xp, tickFont: { family: SERIF, size: 35 }, titleFont: { family: SERIF, size: 35 }, tickPad: 7, tickLen: 5 };
  const ya = isKde
    ? { min: 0, max: 1, size: 0 }
    : { min: RANGES[yp][0], max: RANGES[yp][1], size: p.c === 0 ? CORNER_YW : 0, ticks: TICKS[yp], dec: DEC[yp], title: yp, tickFont: { family: SERIF, size: 32 }, titleFont: { family: SERIF, size: 39 }, tickPad: 2, tickLen: 5 };
  return baseConfig(datasets, xa, ya, E, { color: '#4a4a4a', width: 1.5 });
}

const LEG_LINE = ['#5f6a67', '#5b87da', '#5b87da'];
const LEG_DASH = [[7, 4, 2, 4], [], [7, 4]];
const LEG_TEXT = ['#626c68', '#5e86d6', '#5e86d6'];

function legendConfig(): any {
  return {
    type: 'line',
    data: { datasets: SERIES.map((label, i) => ({ label, data: [], borderColor: LEG_LINE[i], borderDash: LEG_DASH[i], borderWidth: 3 })) },
    options: {
      responsive: false,
      animation: false,
      events: [],
      layout: { padding: 0 },
      scales: { x: { display: false }, y: { display: false } },
      plugins: {
        tooltip: { enabled: false },
        legend: {
          display: true,
          position: 'left',
          align: 'start',
          maxWidth: 400,
          labels: {
            usePointStyle: true,
            pointStyleWidth: 36,
            boxHeight: 4,
            padding: 16,
            font: { family: SERIF, size: 35 },
            generateLabels: (chart: any) => chart.data.datasets.map((d: any, i: number) => ({
              text: d.label, fillStyle: 'rgba(0,0,0,0)', strokeStyle: d.borderColor, lineWidth: 2.5,
              lineDash: d.borderDash, pointStyle: 'line', rotation: 0, fontColor: LEG_TEXT[i], hidden: false, datasetIndex: i,
            })),
          },
        },
      },
    },
  };
}

// ---------------- components ----------------
function ChartCanvas({ box, yW, xH, make }: any) {
  const ref = useRef<HTMLCanvasElement>(null);
  const E = 30;
  const left = box.x - yW - E;
  const top = box.y - E;
  const w = box.w + yW + 2 * E;
  const h = box.h + xH + 2 * E;
  useEffect(() => {
    const chart = new Chart(ref.current as HTMLCanvasElement, make(E));
    return () => chart.destroy();
  }, []);
  return <canvas ref={ref} width={w} height={h} style={{ position: 'absolute', left, top, width: w, height: h }} />;
}

function LegendCanvas() {
  const ref = useRef<HTMLCanvasElement>(null);
  useEffect(() => {
    const chart = new Chart(ref.current as HTMLCanvasElement, legendConfig());
    return () => chart.destroy();
  }, []);
  return <canvas ref={ref} width={415} height={200} style={{ position: 'absolute', left: 1424, top: 8, width: 415, height: 200 }} />;
}

export default function App() {
  return (
    <div style={{ position: 'fixed', left: 0, top: 0, width: 1835, height: 874, background: '#cccccc', overflow: 'hidden' }}>
      <div style={{ position: 'absolute', left: 0, top: 0, width: 430, height: 2, background: 'linear-gradient(to right, #5b8fd6, rgba(91,143,214,0))' }} />
      <ChartCanvas box={TOP_BOX} yW={84} xH={54} make={topConfig} />
      <ChartCanvas box={BOT_BOX} yW={106} xH={58} make={botConfig} />
      {CORNER.map((p, i) => (
        <ChartCanvas
          key={i}
          box={{ x: COL_X[p.c], y: ROW_Y[p.r], w: CELL_W, h: CELL_H }}
          yW={p.c === 0 && p.r > 0 ? CORNER_YW : 0}
          xH={p.r === 3 ? CORNER_XH : 0}
          make={(E: number) => cornerConfig(p, E)}
        />
      ))}
      <LegendCanvas />
    </div>
  );
}
